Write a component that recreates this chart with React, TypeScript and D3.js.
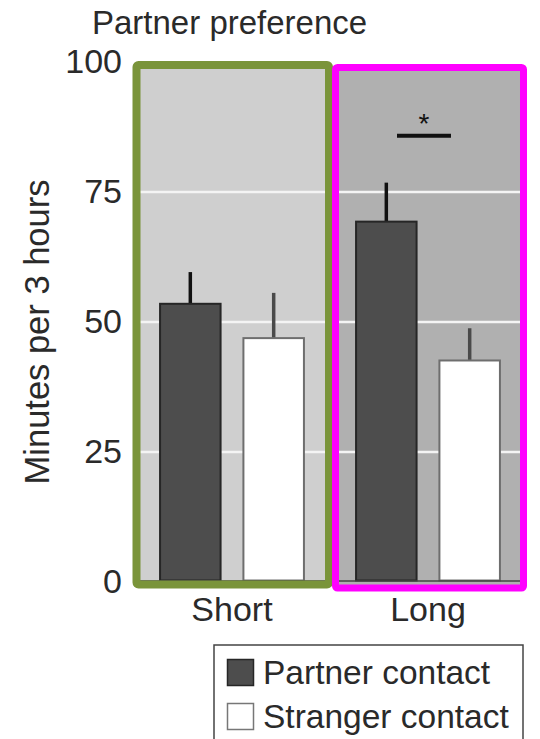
import React from "react";
import * as d3 from "d3";

const groups = ["Short", "Long"];
const series = ["Partner contact", "Stranger contact"];
const means = [
  [53.5, 46.9],
  [69.3, 42.6],
];
const errTops = [
  [59.6, 55.6],
  [76.8, 48.8],
];
const yTicks = [0, 25, 50, 75, 100];
const gridTicks = [25, 50, 75];
const title = "Partner preference";
const yLabel = "Minutes per 3 hours";
const sigGroup = "Long";
const sigLevel = 85.8;
const sigText = "*";

const W = 540;
const H = 739;
const FONT = "'Liberation Sans', Arial, sans-serif";
const TXT = "#2a2a2a";

export default function App() {
  const y = d3.scaleLinear().domain([0, 100]).range([582, 62]);
  const x0 = d3.scaleBand<string>().domain(groups).range([134, 526]).padding(0);
  const x1 = d3
    .scaleBand<string>()
    .domain(series)
    .range([0, x0.bandwidth()])
    .paddingInner(0.274)
    .paddingOuter(0.3126);

  const panelFill = ["#cfcfcf", "#b0b0b0"];
  const panelStroke = ["#7a943a", "#ff00ff"];
  const barFill = ["#4d4d4d", "#ffffff"];
  const barStroke = ["#262626", "#6e6e6e"];
  const errStroke = ["#111111", "#4a4a4a"];
  const insets = [
    { l: 2.5, r: 1, t: 65, b: 584.5, sw: 8 },
    { l: 5.5, r: 2.5, t: 67.5, b: 588, sw: 7 },
  ];

  const panels = groups.map((g, gi) => {
    const bx = x0(g)!;
    const bw = x0.bandwidth();
    const inset = insets[gi];
    return (
      <g key={g}>
        <rect
          x={bx + inset.l}
          y={inset.t}
          width={bw - inset.l - inset.r}
          height={inset.b - inset.t}
          fill={panelFill[gi]}
        />
        {gridTicks.map((t) => (
          <line
            key={t}
            x1={bx + inset.l}
            x2={bx + bw - inset.r}
            y1={y(t)}
            y2={y(t)}
            stroke="#f4f4f4"
            strokeWidth={2.5}
          />
        ))}
      </g>
    );
  });

  const borders = groups.map((g, gi) => {
    const bx = x0(g)!;
    const bw = x0.bandwidth();
    const inset = insets[gi];
    return (
      <rect
        key={g}
        x={bx + inset.l}
        y={inset.t}
        width={bw - inset.l - inset.r}
        height={inset.b - inset.t}
        fill="none"
        stroke={panelStroke[gi]}
        strokeWidth={inset.sw}
        rx={2}
      />
    );
  });

  const bars = groups.map((g, gi) => (
    <g key={g} transform={`translate(${x0(g)},0)`}>
      {series.map((s, si) => {
        const bx = x1(s)!;
        const bw = x1.bandwidth();
        const cx = bx + bw / 2;
        return (
          <g key={s}>
            <line
              x1={cx}
              x2={cx}
              y1={y(means[gi][si])}
              y2={y(errTops[gi][si])}
              stroke={errStroke[si]}
              strokeWidth={3.5}
            />
            <rect
              x={bx}
              y={y(means[gi][si])}
              width={bw}
              height={y(0) - 1.5 - y(means[gi][si])}
              fill={barFill[si]}
              stroke={barStroke[si]}
              strokeWidth={2}
            />
          </g>
        );
      })}
      <line
        x1={insets[gi].l}
        x2={x0.bandwidth() - insets[gi].r}
        y1={y(0) - 1}
        y2={y(0) - 1}
        stroke="#444"
        strokeWidth={1.5}
      />
    </g>
  ));

  const sgx = x0(sigGroup)! + x0.bandwidth() / 2 - 4;

  return (
    <svg
      width={W}
      height={H}
      style={{ position: "absolute", left: 0, top: 0, background: "#ffffff" }}
      fontFamily={FONT}
    >
      <rect x={0} y={0} width={W} height={H} fill="#ffffff" />
      <text x={92} y={34} fontSize={33} fill={TXT}>
        {title}
      </text>
      {panels}
      {bars}
      {borders}
      {/* significance */}
      <line x1={sgx - 27} x2={sgx + 27} y1={y(sigLevel)} y2={y(sigLevel)} stroke="#111" strokeWidth={4} />
      <text x={sgx} y={y(sigLevel) - 3} textAnchor="middle" fontSize={28} fill="#111">
        {sigText}
      </text>
      {/* y axis tick labels */}
      {yTicks.map((t) => (
        <text
          key={t}
          x={122}
          y={y(t) - 1}
          dy="0.35em"
          textAnchor="end"
          fontSize={34}
          fill={TXT}
        >
          {t}
        </text>
      ))}
      <text
        transform={`translate(49,${332}) rotate(-90)`}
        textAnchor="middle"
        fontSize={34.5}
        fill={TXT}
      >
        {yLabel}
      </text>
      {/* x labels */}
      {groups.map((g) => (
        <text
          key={g}
          x={x0(g)! + x0.bandwidth() / 2}
          y={621}
          textAnchor="middle"
          fontSize={34}
          fill={TXT}
        >
          {g}
        </text>
      ))}
      {/* legend */}
      <rect x={214} y={645} width={309} height={110} fill="#fff" stroke="#444" strokeWidth={1.5} />
      {series.map((s, si) => (
        <g key={s} transform={`translate(227,${659 + si * 44})`}>
          <rect x={0.5} y={0.5} width={26} height={26} fill={barFill[si]} stroke={si === 0 ? "#262626" : "#777"} strokeWidth={1.5} />
          <text x={36} y={13} dy="0.36em" fontSize={33.5} fill={TXT}>
            {s}
          </text>
        </g>
      ))}
    </svg>
  );
}
